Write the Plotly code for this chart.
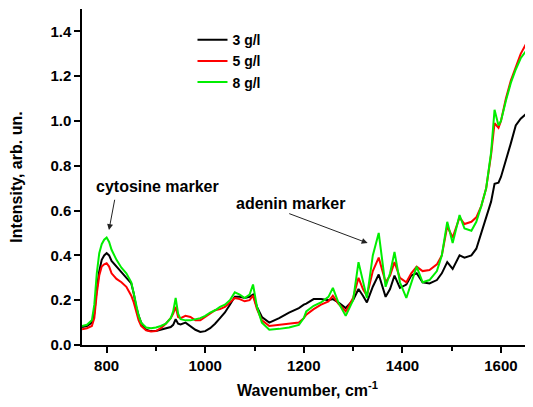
import plotly.graph_objects as go

wavenumber = [750, 760, 770, 775, 780, 785, 790, 795, 800, 805, 810, 820, 830, 840, 850, 855, 860, 865, 870, 880,
              890, 900, 910, 920, 930, 935, 940, 945, 950, 960, 970, 980, 990, 1000, 1010, 1020, 1030, 1040, 1050, 1060,
              1070, 1080, 1090, 1097, 1105, 1115, 1130, 1150, 1170, 1190, 1200, 1205, 1220, 1235, 1250, 1259, 1270, 1285, 1300, 1311,
              1320, 1328, 1340, 1352, 1366, 1375, 1384, 1395, 1408, 1418, 1429, 1441, 1455, 1470, 1480, 1491, 1502, 1516, 1526, 1540,
              1550, 1560, 1570, 1580, 1587, 1595, 1600, 1610, 1620, 1630, 1640, 1650, 1660, 1665]

g3 = [0.080, 0.085, 0.100, 0.140, 0.250, 0.330, 0.380, 0.400, 0.410, 0.400, 0.375, 0.350, 0.330, 0.305, 0.275, 0.230, 0.170, 0.130, 0.100, 0.068,
      0.062, 0.063, 0.068, 0.072, 0.080, 0.090, 0.115, 0.095, 0.092, 0.100, 0.085, 0.068, 0.058, 0.062, 0.075, 0.095, 0.120, 0.145, 0.180, 0.215,
      0.215, 0.210, 0.215, 0.225, 0.170, 0.125, 0.100, 0.120, 0.145, 0.165, 0.180, 0.185, 0.205, 0.205, 0.200, 0.205, 0.190, 0.165, 0.200, 0.250,
      0.220, 0.190, 0.260, 0.315, 0.215, 0.250, 0.310, 0.255, 0.270, 0.310, 0.320, 0.280, 0.275, 0.290, 0.320, 0.370, 0.340, 0.400, 0.390, 0.400,
      0.430, 0.500, 0.580, 0.640, 0.720, 0.725, 0.750, 0.820, 0.900, 0.980, 1.010, 1.030, 1.010, 0.995]

g5 = [0.070, 0.075, 0.085, 0.120, 0.230, 0.310, 0.350, 0.360, 0.365, 0.350, 0.320, 0.295, 0.280, 0.260, 0.220, 0.190, 0.150, 0.110, 0.085, 0.065,
      0.060, 0.062, 0.075, 0.095, 0.120, 0.140, 0.170, 0.125, 0.120, 0.130, 0.125, 0.110, 0.110, 0.125, 0.140, 0.155, 0.160, 0.170, 0.190, 0.210,
      0.205, 0.195, 0.200, 0.220, 0.160, 0.110, 0.085, 0.090, 0.095, 0.100, 0.120, 0.135, 0.160, 0.180, 0.195, 0.220, 0.185, 0.150, 0.210, 0.300,
      0.250, 0.220, 0.330, 0.390, 0.280, 0.310, 0.370, 0.300, 0.280, 0.320, 0.350, 0.330, 0.335, 0.360, 0.400, 0.530, 0.480, 0.570, 0.540, 0.550,
      0.570, 0.620, 0.700, 0.850, 0.990, 0.970, 1.000, 1.100, 1.180, 1.240, 1.300, 1.340, 1.330, 1.320]

g8 = [0.085, 0.090, 0.110, 0.180, 0.320, 0.410, 0.450, 0.470, 0.480, 0.460, 0.425, 0.380, 0.345, 0.320, 0.280, 0.225, 0.170, 0.130, 0.100, 0.078,
      0.075, 0.078, 0.085, 0.095, 0.120, 0.150, 0.210, 0.140, 0.115, 0.110, 0.110, 0.115, 0.120, 0.130, 0.145, 0.155, 0.170, 0.180, 0.200, 0.235,
      0.225, 0.210, 0.225, 0.270, 0.170, 0.100, 0.068, 0.072, 0.078, 0.090, 0.120, 0.150, 0.175, 0.190, 0.215, 0.255, 0.190, 0.130, 0.200, 0.370,
      0.280, 0.210, 0.400, 0.500, 0.260, 0.320, 0.415, 0.280, 0.210, 0.280, 0.350, 0.280, 0.290, 0.330, 0.400, 0.550, 0.455, 0.580, 0.520, 0.510,
      0.550, 0.620, 0.700, 0.860, 1.050, 0.980, 1.000, 1.090, 1.170, 1.230, 1.280, 1.310, 1.300, 1.290]

series = [("3 g/l", g3, "#000000"), ("5 g/l", g5, "#ff0000"), ("8 g/l", g8, "#00ee00")]

FONT = "Liberation Sans, Arial, sans-serif"

fig = go.Figure()
for name, vals, color in series:
    fig.add_trace(go.Scatter(x=wavenumber, y=vals, mode="lines", name=name,
                             line=dict(color=color, width=2)))

# The page body has an 8px default margin, so the figure is 8px smaller on each axis.
fig.update_layout(
    width=525, height=399,
    margin=dict(l=74, r=0, t=1, b=62),
    paper_bgcolor="white", plot_bgcolor="white",
    font=dict(family=FONT, color="black"),
    showlegend=True,
    legend=dict(x=0.245, y=0.955, xanchor="left", yanchor="top",
                bgcolor="rgba(0,0,0,0)", font=dict(size=14, family=FONT, color="black", weight="bold"),
                tracegroupgap=0, itemwidth=30),
    xaxis=dict(range=[750, 1665], showgrid=False, zeroline=False,
               showline=True, linecolor="black", linewidth=1.5,
               ticks="outside", ticklen=6, tickwidth=1.5, tickcolor="black",
               dtick=200, tick0=800,
               tickfont=dict(size=15, family=FONT, color="black", weight="bold"),
               minor=dict(dtick=100, tick0=800, ticks="outside", ticklen=4, tickwidth=1.5, tickcolor="black"),
               title=dict(text="Wavenumber, cm<sup>-1</sup>", standoff=12,
                          font=dict(size=16, family=FONT, color="black", weight="bold"))),
    yaxis=dict(range=[0, 1.5], showgrid=False, zeroline=False,
               showline=True, linecolor="black", linewidth=1.5,
               ticks="outside", ticklen=6, tickwidth=1.5, tickcolor="black",
               dtick=0.2, tick0=0, tickformat=".1f",
               tickfont=dict(size=15, family=FONT, color="black", weight="bold"),
               title=dict(text="Intensity, arb. un.", standoff=24,
                          font=dict(size=16, family=FONT, color="black", weight="bold"))),
)

fig.add_annotation(x=904, y=0.709, xref="x", yref="y", text="cytosine marker", showarrow=False,
                   font=dict(size=16, family=FONT, color="black", weight="bold"))
fig.add_annotation(x=1173, y=0.633, xref="x", yref="y", text="adenin marker", showarrow=False,
                   font=dict(size=16, family=FONT, color="black", weight="bold"))
fig.add_annotation(x=804.7, y=0.513, ax=816.9, ay=0.655, xref="x", yref="y", axref="x", ayref="y",
                   text="", showarrow=True, arrowhead=2, arrowsize=1.2, arrowwidth=1, arrowcolor="#222222")
fig.add_annotation(x=1329.5, y=0.455, ax=1167.4, ay=0.589, xref="x", yref="y", axref="x", ayref="y",
                   text="", showarrow=True, arrowhead=2, arrowsize=1.2, arrowwidth=1, arrowcolor="#222222")

fig.write_html("out.html")
